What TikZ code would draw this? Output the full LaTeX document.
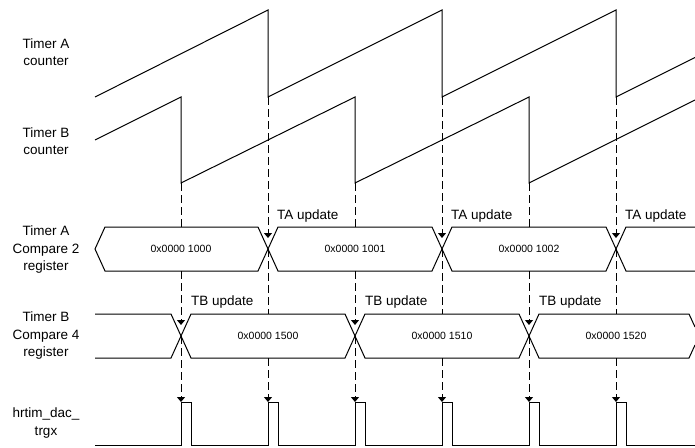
\documentclass[tikz,border=0pt]{standalone}
\usepackage{fontspec}
\setmainfont{Liberation Sans}
\usetikzlibrary{arrows.meta, positioning}

\begin{document}
\begin{tikzpicture}[
      x=1pt, y=-1pt,
      sig/.style={line width=1pt},
      guide/.style={line width=1pt, dash pattern=on 8pt off 4pt},
      tip/.style={-{Triangle[width=8pt,length=5pt]}},
      lbl/.style={font=\fontsize{13.5}{17.5}\selectfont, align=center, inner sep=0pt},
      upd/.style={font=\fontsize{13.5}{16}\selectfont, anchor=west, inner sep=0pt},
      val/.style={font=\fontsize{10.5}{12}\selectfont, inner sep=0pt}
    ]
    \useasboundingbox (0,0) rectangle (695,447);

    % row labels
    \node[lbl] (cntA) at (46,52) {Timer A\\counter};
    \node[lbl] (cntB) at (46,141) {Timer B\\counter};
    \node[lbl] (cmpA) at (46,250) {Timer A\\Compare 2\\register};
    \node[lbl] (cmpB) at (46,336) {Timer B\\Compare 4\\register};
    \node[lbl] (trg) at (46,423) {hrtim\_dac\_\\trgx};

    % counters
    \draw[sig] (95,97) -- (268,10) -- (268,97) -- (442,10) -- (442,97)
      -- (616,10) -- (616,97) -- (695,57.5);
    \draw[sig] (95,140) -- (181,97) -- (181,183) -- (355,97) -- (355,183)
      -- (529,97) -- (529,183) -- (695,100);

    % compare registers
    \draw[sig] (258,227) -- (105,227) -- (95,249) -- (105,271) -- (258,271)
      -- (278,227) -- (432,227) -- (452,271) -- (606,271) -- (626,227) -- (695,227);
    \draw[sig] (258,227) -- (278,271) -- (432,271) -- (452,227) -- (606,227)
      -- (626,271) -- (695,271);
    \draw[sig] (95,314) -- (171,314) -- (191,358) -- (345,358) -- (365,314)
      -- (519,314) -- (539,358) -- (689,358) -- (695,345);
    \draw[sig] (95,358) -- (171,358) -- (191,314) -- (345,314) -- (365,358)
      -- (519,358) -- (539,314) -- (689,314) -- (695,327);

    \node[val] (v1000) at (181,249) {0x0000 1000};
    \node[val] (v1001) at (355,249) {0x0000 1001};
    \node[val] (v1002) at (529,249) {0x0000 1002};
    \node[val] (v1500) at (268,336) {0x0000 1500};
    \node[val] (v1510) at (442,336) {0x0000 1510};
    \node[val] (v1520) at (616,336) {0x0000 1520};

    % trigger pulses
    \draw[sig] (95,445) foreach \x in {181,268,355,442,529,616} {
      -- (\x,445) -- (\x,402) -- (\x+10,402) -- (\x+10,445) } -- (695,445);

    % timer A updates
    \foreach \i/\x in {1/268,2/442,3/616} {
      \coordinate (ra\i) at (\x,97);
      \coordinate (xa\i) at (\x,238);
      \coordinate (ca\i) at (\x,249);
      \coordinate (ba\i) at (\x,314);
      \coordinate (la\i) at (\x,358);
      \coordinate (pa\i) at (\x,402);
      \draw[guide, tip] (ra\i) -- (xa\i);
      \draw[guide] (ca\i) -- (ba\i);
      \draw[guide, tip] (la\i) -- (pa\i);
      \node[upd] (ta\i) at (\x+9,216) {TA update};
    }

    % timer B updates
    \foreach \i/\x in {1/181,2/355,3/529} {
      \coordinate (rb\i) at (\x,183);
      \coordinate (ab\i) at (\x,227);
      \coordinate (qb\i) at (\x,271);
      \coordinate (xb\i) at (\x,325);
      \coordinate (cb\i) at (\x,336);
      \coordinate (pb\i) at (\x,402);
      \draw[guide] (rb\i) -- (ab\i);
      \draw[guide, tip] (qb\i) -- (xb\i);
      \draw[guide, tip] (cb\i) -- (pb\i);
      \node[upd] (tb\i) at (\x+10,302) {TB update};
    }

\end{tikzpicture}
\end{document}
